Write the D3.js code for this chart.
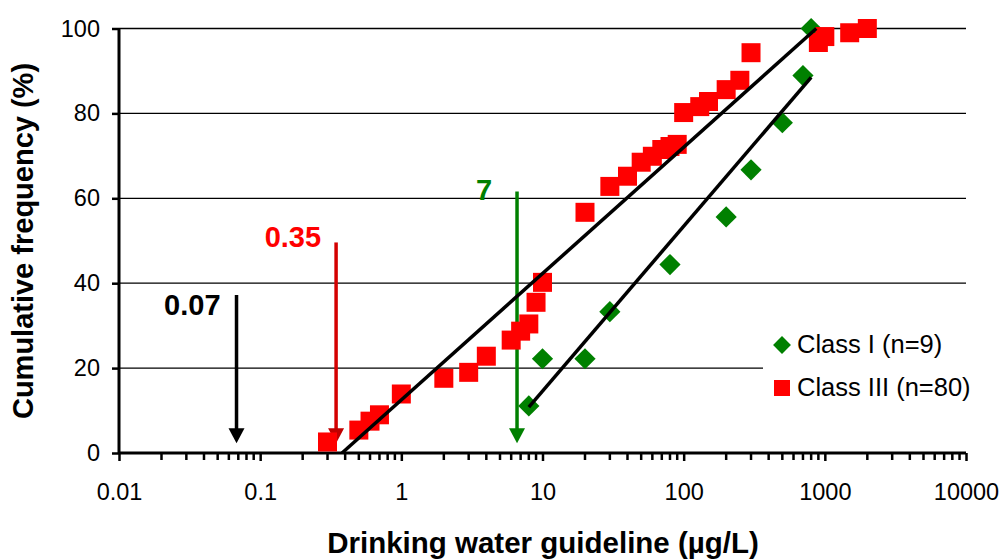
<!DOCTYPE html>
<html>
<head>
<meta charset="utf-8">
<script src="https://cdn.jsdelivr.net/npm/d3@7/dist/d3.min.js"></script>
<style>
  body { margin: 0; background: #fff; }
  svg { display: block; font-family: "Liberation Sans", Arial, sans-serif; }
</style>
</head>
<body>
<div class="wrapper-chart"></div>
<script>
// Class I (green diamonds)
const classIx = [8, 10, 20, 30, 80, 200, 300, 500, 700, 800];
const classIy = [11.1, 22.2, 22.2, 33.3, 44.4, 55.6, 66.7, 77.8, 88.9, 100];
// Class III (red squares)
const classIIIx = [0.3, 0.5, 0.6, 0.7, 1, 2, 3, 4, 6, 7, 8, 9, 10, 20, 30, 40, 50, 60, 70, 80, 90,
                   100, 130, 150, 200, 250, 300, 900, 1000, 1500, 2000];
const classIIIy = [2.6, 5.4, 7.5, 9, 13.9, 17.6, 19, 22.8, 26.6, 28.7, 30.4, 35.5, 40.2, 56.7, 62.8, 65.2,
                   68.5, 69.9, 71.5, 72.2, 72.7, 80.2, 81.6, 82.8, 85.6, 87.8, 94.3, 96.7, 98.1, 99, 100];
// fitted lines
const fitIx = [8, 800];
const fitIy = [10.8, 88.5];
const fitIIIx = [0.38, 870];
const fitIIIy = [0, 100];
// guideline arrows
const guideX = [0.068, 0.345, 6.6];
const guideTop = [37.2, 49.6, 61.6];
const guideTip = 2.3;
const guideLabels = ["0.07", "0.35", "7"];
// axes
const xTicks = [0.01, 0.1, 1, 10, 100, 1000, 10000];
const xTickLabels = ["0.01", "0.1", "1", "10", "100", "1000", "10000"];
const yTicks = [0, 20, 40, 60, 80, 100];
const legendLabels = ["Class I (n=9)", "Class III (n=80)"];

const W = 1004, H = 559;
const svg = d3.select(".wrapper-chart").append("svg")
              .attr("width", W).attr("height", H)
              .attr("viewBox", [0, 0, W, H]);

const x = d3.scaleLog().domain([0.01, 10000]).range([119, 966]);
const y = d3.scaleLinear().domain([0, 100]).range([453, 28.5]);

// gridlines
svg.append("g").selectAll("line")
   .data(yTicks.filter(d => d > 0))
   .join("line")
   .attr("x1", x(0.01)).attr("x2", x(10000))
   .attr("y1", d => y(d)).attr("y2", d => y(d))
   .attr("stroke", "#000").attr("stroke-width", 1.3);

// minor ticks on x
const minor = [];
for (let e = -2; e < 4; e++) for (let m = 2; m <= 9; m++) minor.push(m * Math.pow(10, e));

const xAxis = svg.append("g").attr("transform", "translate(0," + y(0) + ")");
xAxis.append("g").selectAll("line").data(minor).join("line")
     .attr("x1", d => x(d)).attr("x2", d => x(d)).attr("y1", 0).attr("y2", 7)
     .attr("stroke", "#000").attr("stroke-width", 2.5);
xAxis.call(d3.axisBottom(x).tickValues(xTicks).tickFormat((d, i) => xTickLabels[i])
             .tickSize(8).tickPadding(22))
     .call(g => g.select(".domain").attr("stroke-width", 3).attr("d", "M" + x(0.01) + ",0H" + x(10000)))
     .call(g => g.selectAll(".tick line").attr("stroke-width", 2.5))
     .call(g => g.selectAll("text").attr("font-size", 23.5).attr("font-family", "Liberation Sans, Arial, sans-serif").attr("fill", "#000"));

const yAxis = svg.append("g").attr("transform", "translate(" + x(0.01) + ",0)");
yAxis.call(d3.axisLeft(y).tickValues(yTicks).tickSize(7).tickPadding(12))
     .call(g => g.select(".domain").attr("stroke-width", 3).attr("d", "M0," + y(0) + "V" + y(100)))
     .call(g => g.selectAll(".tick line").attr("stroke-width", 2.5))
     .call(g => g.selectAll("text").attr("font-size", 23.5).attr("font-family", "Liberation Sans, Arial, sans-serif").attr("fill", "#000"));

// axis titles
svg.append("text")
   .attr("x", 543).attr("y", 553)
   .attr("text-anchor", "middle").attr("font-size", 29.5).attr("font-weight", "bold")
   .text("Drinking water guideline (\u00b5g/L)");
svg.append("text")
   .attr("transform", "translate(33,241) rotate(-90)")
   .attr("text-anchor", "middle").attr("font-size", 29).attr("font-weight", "bold")
   .text("Cumulative frequency (%)");

// guideline arrows
const arrowLine = ["#000", "#d40000", "#008000"];
const arrowHead = ["#000", "#c00000", "#008000"];
const labelFill = ["#000", "#ff0000", "#008000"];
const labelDx = [-16, -15, -25];
const labelDy = [20, 5, 8];
guideX.forEach((v, i) => {
  const ax = x(v), top = y(guideTop[i]), tip = y(guideTip);
  svg.append("line")
     .attr("x1", ax).attr("x2", ax).attr("y1", top).attr("y2", tip - 12)
     .attr("stroke", arrowLine[i]).attr("stroke-width", 3.5);
  svg.append("path")
     .attr("d", "M" + (ax - 8) + "," + (tip - 15) + "L" + (ax + 8) + "," + (tip - 15) + "L" + ax + "," + tip + "Z")
     .attr("fill", arrowHead[i]);
  svg.append("text")
     .attr("x", ax + labelDx[i]).attr("y", top + labelDy[i])
     .attr("text-anchor", "end").attr("font-size", 29).attr("font-weight", "bold")
     .attr("fill", labelFill[i])
     .text(guideLabels[i]);
});

// markers
const diamond = d3.symbol().type(d3.symbolSquare).size(225);
const square = d3.symbol().type(d3.symbolSquare).size(361);

svg.append("g").selectAll("path")
   .data(classIx.map((d, i) => [d, classIy[i]]))
   .join("path")
   .attr("d", diamond)
   .attr("transform", d => "translate(" + x(d[0]) + "," + y(d[1]) + ") rotate(45)")
   .attr("fill", "#008000");

svg.append("g").selectAll("path")
   .data(classIIIx.map((d, i) => [d, classIIIy[i]]))
   .join("path")
   .attr("d", square)
   .attr("transform", d => "translate(" + x(d[0]) + "," + y(d[1]) + ")")
   .attr("fill", "#ff0000");

// fitted lines
const line = d3.line().x(d => x(d[0])).y(d => y(d[1]));
[[fitIx, fitIy], [fitIIIx, fitIIIy]].forEach(([fx, fy]) => {
  svg.append("path")
     .attr("d", line(fx.map((d, i) => [d, fy[i]])))
     .attr("fill", "none").attr("stroke", "#000").attr("stroke-width", 3.5);
});

// legend
const legend = svg.append("g");
legend.append("rect").attr("x", 763).attr("y", 322).attr("width", 241).attr("height", 90).attr("fill", "#fff");
const legendSym = [d3.symbol().type(d3.symbolSquare).size(160), d3.symbol().type(d3.symbolSquare).size(256)];
const legendFill = ["#008000", "#ff0000"];
legendLabels.forEach((t, i) => {
  const cy = 345 + i * 43;
  legend.append("path")
        .attr("d", legendSym[i])
        .attr("transform", "translate(782," + cy + ")" + (i === 0 ? " rotate(45)" : ""))
        .attr("fill", legendFill[i]);
  legend.append("text")
        .attr("x", 797).attr("y", cy + 8)
        .attr("font-size", 25.5)
        .text(t);
});
</script>
</body>
</html>
